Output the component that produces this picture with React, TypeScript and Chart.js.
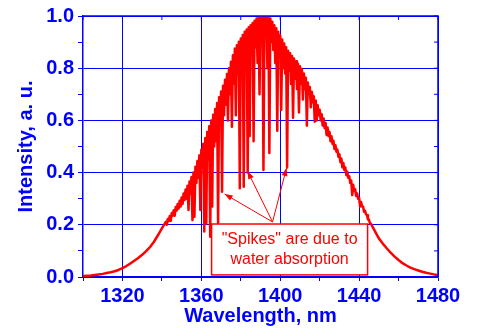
import React, { useEffect, useRef } from "react";
import { Chart, registerables } from "chart.js";

Chart.register(...registerables);

const BLUE = "#0000ff";
const RED = "#ff0000";
const FONT = "'Liberation Sans', Arial, sans-serif";

// Spectrum: [wavelength nm, intensity a.u.]
const spectrum: [number, number][] = [
  [1300, 0.004], [1302, 0.005], [1304, 0.006], [1306, 0.008], [1308, 0.010],
  [1310, 0.012], [1312, 0.015], [1314, 0.018], [1316, 0.022], [1318, 0.027],
  [1320, 0.034], [1322, 0.042], [1324, 0.052], [1326, 0.062], [1328, 0.073],
  [1330, 0.085], [1332, 0.099], [1334, 0.115], [1336, 0.135], [1338, 0.160],
  [1339, 0.173], [1340, 0.186], [1341, 0.199],
  [1342, 0.211], [1342.5, 0.200], [1343, 0.222], [1343.5, 0.215],
  [1344, 0.234], [1344.5, 0.215], [1345, 0.245], [1345.5, 0.235],
  [1346, 0.256], [1346.5, 0.235], [1347, 0.268], [1347.5, 0.255],
  [1348, 0.280], [1348.5, 0.262], [1349, 0.292], [1349.5, 0.270],
  [1350, 0.305], [1350.5, 0.280], [1351, 0.320], [1351.5, 0.295],
  [1352, 0.335], [1352.5, 0.300], [1353, 0.350], [1353.5, 0.257],
  [1354, 0.366], [1354.5, 0.320], [1355, 0.383], [1355.5, 0.218],
  [1356, 0.400], [1356.5, 0.231], [1357, 0.422], [1357.5, 0.360],
  [1358, 0.444], [1358.5, 0.380], [1359, 0.466], [1359.5, 0.257],
  [1360, 0.488], [1360.5, 0.420], [1361, 0.511], [1361.5, 0.174],
  [1362, 0.533], [1362.5, 0.206], [1363, 0.556], [1363.5, 0.450],
  [1364, 0.578], [1364.5, 0.154], [1365, 0.600], [1365.5, 0.270],
  [1366, 0.622], [1366.5, 0.500], [1367, 0.644], [1367.5, 0.520],
  [1368, 0.667], [1368.5, 0.206], [1369, 0.689], [1369.5, 0.580],
  [1370, 0.711], [1370.5, 0.327], [1371, 0.733], [1371.5, 0.620],
  [1372, 0.756], [1372.5, 0.660], [1373, 0.778], [1373.5, 0.600],
  [1374, 0.800], [1374.5, 0.700], [1375, 0.825], [1375.5, 0.576],
  [1376, 0.850], [1376.5, 0.740], [1377, 0.875], [1377.5, 0.620],
  [1378, 0.888], [1378.5, 0.780], [1379, 0.901], [1379.5, 0.340],
  [1380, 0.914], [1380.5, 0.820], [1381, 0.927], [1381.5, 0.346],
  [1382, 0.940], [1382.5, 0.840], [1383, 0.948], [1383.5, 0.400],
  [1384, 0.957], [1384.5, 0.540], [1385, 0.965], [1385.5, 0.860],
  [1386, 0.973], [1386.5, 0.520], [1387, 0.982], [1387.5, 0.880],
  [1388, 0.990], [1388.5, 0.820], [1389, 0.995], [1389.5, 0.700],
  [1390, 1.000], [1390.5, 0.900], [1391, 1.000], [1391.5, 0.410],
  [1392, 1.000], [1392.5, 0.920], [1393, 0.998], [1393.5, 0.800],
  [1394, 0.995], [1394.5, 0.475], [1395, 0.990], [1395.5, 0.900],
  [1396, 0.978], [1396.5, 0.870], [1397, 0.965], [1397.5, 0.820],
  [1398, 0.953], [1398.5, 0.560], [1399, 0.940], [1399.5, 0.860],
  [1400, 0.925], [1400.5, 0.640], [1401, 0.910], [1401.5, 0.800],
  [1402, 0.895], [1402.5, 0.780], [1403, 0.880], [1403.5, 0.420],
  [1404, 0.867], [1404.5, 0.790], [1405, 0.857], [1405.5, 0.740],
  [1406, 0.847], [1406.5, 0.610], [1407, 0.837], [1407.5, 0.760],
  [1408, 0.827], [1408.5, 0.720], [1409, 0.817], [1409.5, 0.630],
  [1410, 0.807], [1410.5, 0.740], [1411, 0.797], [1411.5, 0.680],
  [1412, 0.780], [1412.5, 0.720], [1413, 0.763], [1413.5, 0.580],
  [1414, 0.745], [1414.5, 0.700], [1415, 0.728], [1415.5, 0.650],
  [1416, 0.710], [1416.5, 0.670], [1417, 0.693], [1417.5, 0.595],
  [1418, 0.676], [1418.5, 0.600], [1419, 0.658], [1419.5, 0.620],
  [1420, 0.641], [1420.5, 0.600], [1421, 0.624], [1421.5, 0.580],
  [1422, 0.607], [1422.5, 0.570], [1423, 0.590], [1423.5, 0.544],
  [1424, 0.573], [1424.5, 0.540], [1425, 0.556], [1425.5, 0.520],
  [1426, 0.539], [1426.5, 0.510], [1427, 0.522], [1427.5, 0.490],
  [1428, 0.505], [1428.5, 0.480], [1429, 0.488], [1429.5, 0.460],
  [1430, 0.471], [1430.5, 0.440], [1431, 0.454], [1431.5, 0.420],
  [1432, 0.437], [1432.5, 0.410], [1433, 0.420], [1433.5, 0.390],
  [1434, 0.403], [1434.5, 0.380], [1435, 0.386], [1435.5, 0.360],
  [1436, 0.370], [1436.5, 0.314], [1437, 0.353], [1437.5, 0.330],
  [1438, 0.336], [1438.5, 0.310], [1439, 0.320], [1439.5, 0.300],
  [1440, 0.303], [1440.5, 0.270], [1441, 0.287], [1441.5, 0.270],
  [1442, 0.270], [1442.5, 0.250], [1443, 0.254], [1443.5, 0.240],
  [1444, 0.237], [1444.5, 0.220], [1445, 0.220], [1445.5, 0.205],
  [1446, 0.204],
  [1447, 0.190], [1448, 0.176], [1450, 0.148], [1452, 0.128], [1454, 0.110],
  [1456, 0.093], [1458, 0.078], [1460, 0.065], [1462, 0.053], [1464, 0.044],
  [1466, 0.036], [1468, 0.030], [1470, 0.025], [1472, 0.020], [1474, 0.016],
  [1476, 0.013], [1478, 0.010], [1480, 0.008],
];

const xMajorTicks = [1320, 1360, 1400, 1440, 1480];
const yMajorTicks = [0, 0.2, 0.4, 0.6, 0.8, 1.0];
const xTitle = "Wavelength, nm";
const yTitle = "Intensity, a. u.";
const noteLines = ['"Spikes" are due to', "water absorption"];
// annotation, in data coordinates
const noteBox = { xMin: 1365.2, xMax: 1444.3, yMin: 0.008, yMax: 0.203 };
const noteTextY = [0.142, 0.066];
const arrowFrom: [number, number] = [1396.1, 0.211];
const arrowTo: [number, number][] = [
  [1371.8, 0.318],
  [1383.4, 0.406],
  [1403.2, 0.418],
];

const isMajorX = (v: number) => xMajorTicks.some((t) => Math.abs(t - v) < 1e-6);
const isMajorY = (v: number) => yMajorTicks.some((t) => Math.abs(t - v) < 1e-6);

const framePlugin = {
  id: "frameAndNote",
  afterDatasetsDraw(chart: any) {
    const { ctx, chartArea: a, scales } = chart;
    const x = scales.x;
    const y = scales.y;
    ctx.save();
    // top & right frame with inward minor ticks
    ctx.strokeStyle = BLUE;
    ctx.lineWidth = 1.5;
    ctx.beginPath();
    ctx.moveTo(a.left, a.top);
    ctx.lineTo(a.right, a.top);
    ctx.lineTo(a.right, a.bottom);
    ctx.stroke();
    ctx.lineWidth = 1;
    ctx.beginPath();
    for (const t of x.ticks) {
      const px = x.getPixelForValue(t.value);
      ctx.moveTo(px, a.top);
      ctx.lineTo(px, a.top + 4);
    }
    for (const t of y.ticks) {
      const py = y.getPixelForValue(t.value);
      ctx.moveTo(a.right, py);
      ctx.lineTo(a.right - 4, py);
    }
    ctx.stroke();

    // annotation box
    const bx0 = x.getPixelForValue(noteBox.xMin);
    const bx1 = x.getPixelForValue(noteBox.xMax);
    const by0 = y.getPixelForValue(noteBox.yMax);
    const by1 = y.getPixelForValue(noteBox.yMin);
    ctx.fillStyle = "#ffffff";
    ctx.fillRect(bx0, by0, bx1 - bx0, by1 - by0);
    ctx.strokeStyle = RED;
    ctx.lineWidth = 1.5;
    ctx.strokeRect(bx0, by0, bx1 - bx0, by1 - by0);
    ctx.fillStyle = RED;
    ctx.font = `16px ${FONT}`;
    ctx.textAlign = "center";
    ctx.textBaseline = "middle";
    const cx = (bx0 + bx1) / 2;
    noteLines.forEach((line, i) => {
      ctx.fillText(line, cx, y.getPixelForValue(noteTextY[i]));
    });

    // arrows
    const ox = x.getPixelForValue(arrowFrom[0]);
    const oy = y.getPixelForValue(arrowFrom[1]);
    ctx.strokeStyle = RED;
    ctx.lineWidth = 1;
    for (const [tx, ty] of arrowTo) {
      const px = x.getPixelForValue(tx);
      const py = y.getPixelForValue(ty);
      ctx.beginPath();
      ctx.moveTo(ox, oy);
      ctx.lineTo(px, py);
      ctx.stroke();
      const ang = Math.atan2(py - oy, px - ox);
      const L = 8;
      const W = 3;
      ctx.beginPath();
      ctx.moveTo(px, py);
      ctx.lineTo(
        px - L * Math.cos(ang) + W * Math.sin(ang),
        py - L * Math.sin(ang) - W * Math.cos(ang)
      );
      ctx.lineTo(
        px - L * Math.cos(ang) - W * Math.sin(ang),
        py - L * Math.sin(ang) + W * Math.cos(ang)
      );
      ctx.closePath();
      ctx.fill();
    }
    ctx.restore();
  },
};

export default function App() {
  const ref = useRef<HTMLCanvasElement | null>(null);

  useEffect(() => {
    document.body.style.margin = "0";
    const canvas = ref.current;
    if (!canvas) return;
    const chart = new Chart(canvas, {
      type: "line",
      data: {
        datasets: [
          {
            data: spectrum.map(([x, y]) => ({ x, y })),
            borderColor: RED,
            backgroundColor: RED,
            borderWidth: 2.5,
            borderJoinStyle: "round",
            pointRadius: 0,
            tension: 0,
            fill: false,
          },
        ],
      },
      options: {
        responsive: false,
        animation: false,
        events: [],
        layout: { padding: { left: 0, right: 40, top: 16, bottom: 0 } },
        plugins: {
          legend: { display: false },
          tooltip: { enabled: false },
        },
        scales: {
          x: {
            type: "linear",
            min: 1300,
            max: 1480,
            afterFit: (s: any) => {
              s.height = 52;
            },
            ticks: {
              stepSize: 20,
              autoSkip: false,
              maxRotation: 0,
              color: BLUE,
              padding: 3,
              font: { family: FONT, size: 20, weight: "bold" },
              callback: (v: any) => (isMajorX(Number(v)) ? String(v) : ""),
            },
            grid: {
              color: (c: any) =>
                c.tick && isMajorX(c.tick.value) ? BLUE : "rgba(0,0,0,0)",
              tickColor: BLUE,
              tickLength: 4,
              lineWidth: 1,
            },
            border: { color: BLUE, width: 1.5 },
            title: {
              display: true,
              text: xTitle,
              color: BLUE,
              font: { family: FONT, size: 20, weight: "bold" },
              padding: { top: 0, bottom: 1 },
            },
          },
          y: {
            type: "linear",
            min: 0,
            max: 1,
            afterFit: (s: any) => {
              s.width = 83;
            },
            ticks: {
              stepSize: 0.1,
              autoSkip: false,
              color: BLUE,
              padding: 4,
              font: { family: FONT, size: 20, weight: "bold" },
              callback: (v: any) =>
                isMajorY(Number(v)) ? Number(v).toFixed(1) : "",
            },
            grid: {
              color: (c: any) =>
                c.tick && isMajorY(c.tick.value) ? BLUE : "rgba(0,0,0,0)",
              tickColor: BLUE,
              tickLength: 5,
              lineWidth: 1,
            },
            border: { color: BLUE, width: 1.5 },
            title: {
              display: true,
              text: yTitle,
              color: BLUE,
              font: { family: FONT, size: 20, weight: "bold" },
              padding: { top: 14, bottom: 0 },
            },
          },
        },
      },
      plugins: [framePlugin],
    } as any);
    return () => chart.destroy();
  }, []);

  return (
    <canvas
      ref={ref}
      width={478}
      height={329}
      style={{ display: "block", width: 478, height: 329 }}
    />
  );
}
